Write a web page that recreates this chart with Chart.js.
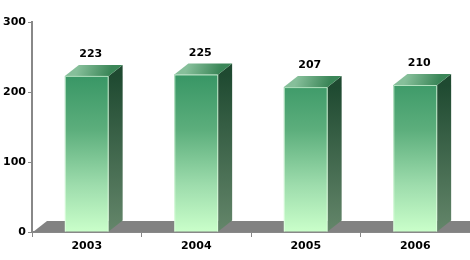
<!DOCTYPE html>
<html>
<head>
<meta charset="utf-8">
<script src="https://cdn.jsdelivr.net/npm/chart.js@4/dist/chart.umd.min.js"></script>
<style>
  html, body { margin: 0; padding: 0; background: #fff; }
  #chart { display: block; }
</style>
</head>
<body>
<canvas id="chart" width="470" height="260"></canvas>
<script>
// data
const years = ['2003', '2004', '2005', '2006'];
const values = [223, 225, 207, 210];
const yTicks = [0, 100, 200, 300];

const DX = 14, DY = 11; // 3d depth

// gray floor + side/top faces + value labels
const box3d = {
  id: 'box3d',
  beforeDatasetsDraw(chart) {
    const ctx = chart.ctx;
    const area = chart.chartArea;
    const y0 = chart.scales.y.getPixelForValue(0);
    ctx.save();
    ctx.fillStyle = '#828282';
    ctx.beginPath();
    ctx.moveTo(area.left + 1, y0);
    ctx.lineTo(area.left + 1 + DX, y0 - DY);
    ctx.lineTo(area.right, y0 - DY);
    ctx.lineTo(area.right, y0);
    ctx.closePath();
    ctx.fill();
    ctx.restore();
  },
  afterDatasetsDraw(chart) {
    const ctx = chart.ctx;
    const meta = chart.getDatasetMeta(0);
    ctx.save();
    meta.data.forEach((bar, i) => {
      const l = bar.x - bar.width / 2, r = bar.x + bar.width / 2;
      const top = bar.y, base = bar.base;
      // side face
      let g = ctx.createLinearGradient(0, top, 0, base);
      g.addColorStop(0, '#1f4a31');
      g.addColorStop(1, '#64866a');
      ctx.fillStyle = g;
      ctx.beginPath();
      ctx.moveTo(r, top);
      ctx.lineTo(r + DX, top - DY);
      ctx.lineTo(r + DX, base - DY);
      ctx.lineTo(r, base);
      ctx.closePath();
      ctx.fill();
      // top face
      g = ctx.createLinearGradient(l + DX, top - DY, r, top);
      g.addColorStop(0, '#86bf9a');
      g.addColorStop(1, '#3b8658');
      ctx.fillStyle = g;
      ctx.beginPath();
      ctx.moveTo(l, top);
      ctx.lineTo(l + DX, top - DY);
      ctx.lineTo(r + DX, top - DY);
      ctx.lineTo(r, top);
      ctx.closePath();
      ctx.fill();
      // light edges
      ctx.strokeStyle = 'rgba(230,255,230,0.7)';
      ctx.lineWidth = 1;
      ctx.beginPath();
      ctx.moveTo(l + 0.5, base);
      ctx.lineTo(l + 0.5, top + 0.5);
      ctx.lineTo(r - 0.5, top + 0.5);
      ctx.lineTo(r - 0.5, base);
      ctx.stroke();
      // label
      ctx.fillStyle = '#000';
      ctx.font = 'bold 11px "DejaVu Sans", Verdana, sans-serif';
      ctx.textAlign = 'center';
      ctx.textBaseline = 'alphabetic';
      ctx.fillText(values[i], bar.x + 4, top - DY - 8);
    });
    ctx.restore();
  }
};

const ctx = document.getElementById('chart').getContext('2d');
const frontFill = c => {
  const a = c.chart.chartArea;
  if (!a) return '#5aa878';
  const y = c.chart.scales.y;
  const g = c.chart.ctx.createLinearGradient(0, y.getPixelForValue(225), 0, y.getPixelForValue(0));
  g.addColorStop(0, '#389665');
  g.addColorStop(0.35, '#5cae7c');
  g.addColorStop(0.7, '#9ddcac');
  g.addColorStop(1, '#caffca');
  return g;
};

new Chart(ctx, {
  type: 'bar',
  data: {
    labels: years,
    datasets: [{
      data: values,
      backgroundColor: frontFill,
      borderWidth: 0,
      categoryPercentage: 1,
      barPercentage: 0.4
    }]
  },
  options: {
    responsive: false,
    animation: false,
    layout: { padding: { top: 22, right: 0, left: 0, bottom: 0 } },
    plugins: { legend: { display: false }, tooltip: { enabled: false } },
    scales: {
      x: {
        afterFit: s => { s.height = 28; },
        grid: { drawOnChartArea: false, color: '#888', tickLength: 5, offset: true },
        border: { color: '#888', width: 2 },
        ticks: { color: '#000', font: { family: '"DejaVu Sans", Verdana, sans-serif', size: 11, weight: 'bold' }, padding: 3 }
      },
      y: {
        min: 0, max: 300,
        afterFit: s => { s.width = 32; },
        afterBuildTicks: s => { s.ticks = yTicks.map(v => ({ value: v })); },
        grid: { drawOnChartArea: false, color: '#888', tickLength: 4 },
        border: { color: '#888', width: 2 },
        ticks: { color: '#000', font: { family: '"DejaVu Sans", Verdana, sans-serif', size: 11, weight: 'bold' }, padding: 2 }
      }
    }
  },
  plugins: [box3d]
});
</script>
</body>
</html>
